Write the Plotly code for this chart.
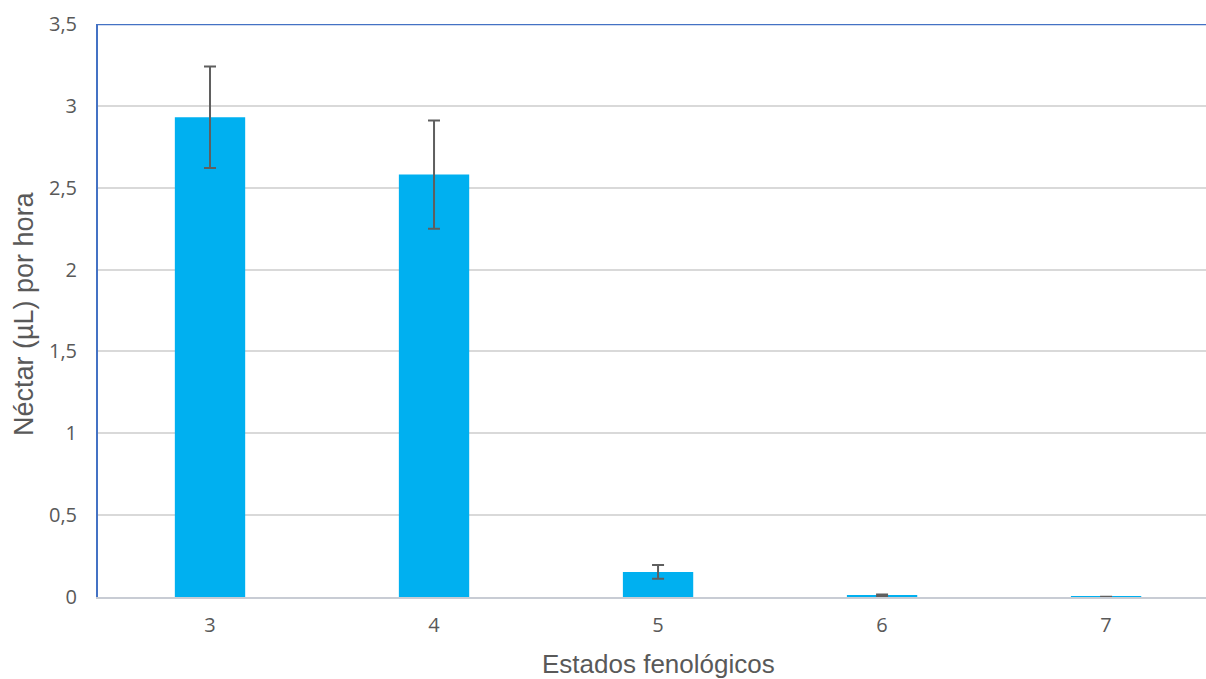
import plotly.graph_objects as go

categories = ["3", "4", "5", "6", "7"]
values = [2.93, 2.58, 0.153, 0.01, 0.0005]
errors = [0.31, 0.33, 0.042, 0.006, 0.0005]

x_title = "Estados fenológicos"
y_title = "Néctar (µL) por hora"

fig = go.Figure()
fig.add_trace(go.Bar(
    x=categories, y=values,
    marker=dict(color="#00B0F0", line=dict(width=0)),
    error_y=dict(type="data", array=errors, visible=True,
                 color="#5F5F5F", thickness=2, width=6),
    width=0.314,
))

fig.update_layout(
    width=1206, height=679,
    margin=dict(l=98, r=0, t=24, b=82),
    plot_bgcolor="white", paper_bgcolor="white",
    separators=",.",
    showlegend=False,
    xaxis=dict(
        type="category", range=[-0.5, 4.446],
        showline=True, linecolor="#C8CCD4", linewidth=2,
        showgrid=False, ticks="",
        ticklabelstandoff=9,
        tickfont=dict(family="Open Sans", size=20, color="#595959"),
    ),
    yaxis=dict(
        range=[0, 3.5], dtick=0.5, tick0=0,
        showline=True, linecolor="#4472C4", linewidth=2,
        showgrid=True, gridcolor="#D9D9D9", gridwidth=1.5,
        zeroline=False, ticks="",
        ticklabelstandoff=15,
        tickfont=dict(family="Open Sans", size=20, color="#595959"),
    ),
    shapes=[dict(type="line", xref="paper", yref="y", x0=0, x1=1, y0=3.5, y1=3.5,
                 line=dict(color="#4472C4", width=2.5))],
    annotations=[
        dict(text=x_title, xref="paper", yref="paper", x=0.5063, y=-0.117,
             xanchor="center", yanchor="middle", showarrow=False,
             font=dict(family="Liberation Sans", size=26, color="#595959")),
        dict(text=y_title, xref="paper", yref="paper", x=-0.0668, y=0.4956,
             xanchor="center", yanchor="middle", showarrow=False, textangle=-90,
             font=dict(family="Liberation Sans", size=27, color="#595959")),
    ],
)

fig.write_html("out.html", config={"displayModeBar": False},
               post_script="document.body.style.margin='0';document.body.style.overflow='hidden';")
